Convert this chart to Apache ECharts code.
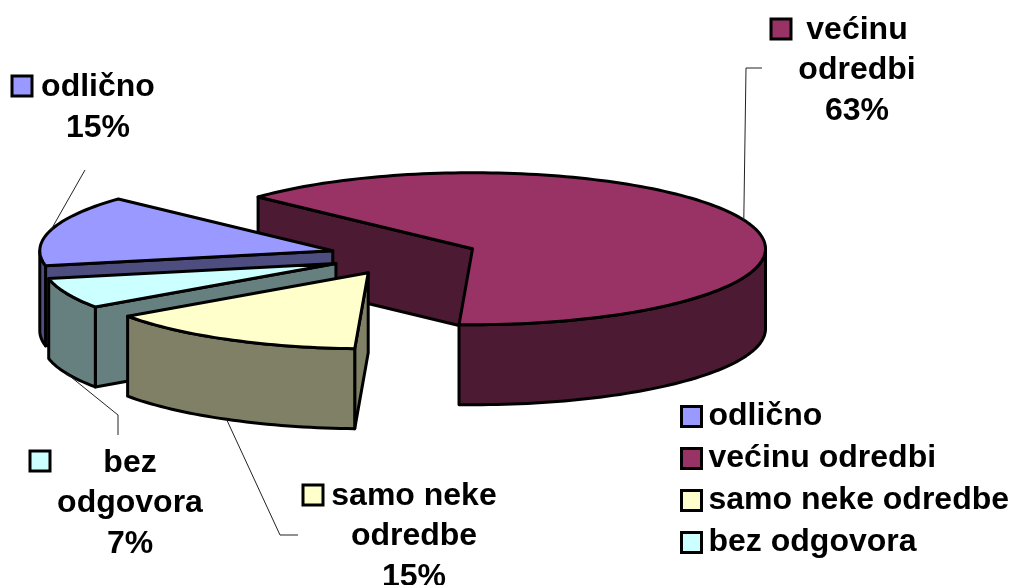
<!DOCTYPE html>
<html>
<head>
<meta charset="utf-8">
<style>html,body{margin:0;padding:0;background:#fff}#c{width:1012px;height:585px}</style>
<script src="https://cdn.jsdelivr.net/npm/echarts@6/dist/echarts.min.js"></script>
</head>
<body>
<div id="c"></div>
<script>
const categories = ['odlično', 'većinu odredbi', 'samo neke odredbe', 'bez odgovora'];
const values = [15.1, 63.8, 14.6, 6.5];
const percentLabels = ['15%', '63%', '15%', '7%'];
const labelNames = ['odlično', 'većinu\nodredbi', 'samo neke\nodredbe', 'bez\nodgovora'];

const topColors = ['#9999FF', '#993366', '#FFFFCC', '#CCFFFF'];
const sideColors = ['#4D4D80', '#4D1A33', '#808066', '#668080'];
const drawOrder = [1, 0, 3, 2];

// pie projection (ellipse radii, explosion, extrusion), independent of data
const pie = { cx: 404, cy: 256, rx: 293, ry: 76, explode: 74, depth: 80, firstAngle: -101.4 };
const labelCenters = [[98, 107.5], [857, 70.5], [414, 536.5], [130, 503.5]];
const swatches = [[22, 86], [781, 29], [313, 495], [40, 461]];
const leaders = [
  { wall: false, via: [[85, 170]] },
  { wall: false, via: [[746, 68], [762, 68]] },
  { wall: true, via: [[280, 535], [298, 535]] },
  { wall: true, via: [[118, 415], [118, 435]] }
];

const FONT = 'bold 32px "Liberation Sans", Arial, sans-serif';
const total = values.reduce((a, b) => a + b, 0);
const slices = [];
let acc = pie.firstAngle;
values.forEach((v) => {
  const sweep = v / total * 360;
  slices.push({ s: acc, e: acc + sweep, mid: acc + sweep / 2 });
  acc += sweep;
});
const rad = (d) => d * Math.PI / 180;

function apexOf(sl) {
  return [
    pie.cx + pie.explode * Math.sin(rad(sl.mid)),
    pie.cy - pie.explode * (pie.ry / pie.rx) * Math.cos(rad(sl.mid))
  ];
}
function rim(ap, deg, dz) {
  return [ap[0] + pie.rx * Math.sin(rad(deg)), ap[1] - pie.ry * Math.cos(rad(deg)) + (dz || 0)];
}
function arc(ap, a, b, dz) {
  const pts = [];
  const n = Math.max(2, Math.ceil(Math.abs(b - a) / 1.5));
  for (let i = 0; i <= n; i++) pts.push(rim(ap, a + (b - a) * i / n, dz));
  return pts;
}
function face(points, fill) {
  return {
    type: 'polygon',
    shape: { points: points },
    style: { fill: fill, stroke: '#000', lineWidth: 3, lineJoin: 'round' }
  };
}
function down(p) { return [p[0], p[1] + pie.depth]; }

function makeRender(idx) {
  return function () {
    const sl = slices[idx];
    const ap = apexOf(sl);
    const children = [];
    // only the cut faces that turn towards the viewer are drawn
    [[sl.s, Math.sin(rad(sl.s)) < 0], [sl.e, Math.sin(rad(sl.e)) > 0]].forEach(([deg, visible]) => {
      if (!visible) return;
      const r = rim(ap, deg);
      children.push(face([ap, r, down(r), down(ap)], sideColors[idx]));
    });
    [-360, 0, 360].forEach((k) => {
      const lo = Math.max(sl.s, 90 + k);
      const hi = Math.min(sl.e, 270 + k);
      if (hi > lo) {
        children.push(face(arc(ap, lo, hi).concat(arc(ap, hi, lo, pie.depth)), sideColors[idx]));
      }
    });
    children.push(face([ap].concat(arc(ap, sl.s, sl.e)), topColors[idx]));

    const L = leaders[idx];
    const start = rim(ap, sl.mid, L.wall ? pie.depth : 0);
    children.push({
      type: 'polyline',
      shape: { points: [start].concat(L.via) },
      style: { fill: null, stroke: '#222', lineWidth: 1 }
    });
    children.push({
      type: 'rect',
      shape: { x: swatches[idx][0] - 10, y: swatches[idx][1] - 10, width: 20, height: 20 },
      style: { fill: topColors[idx], stroke: '#000', lineWidth: 3 }
    });
    children.push({
      type: 'text',
      style: {
        x: labelCenters[idx][0],
        y: labelCenters[idx][1],
        text: labelNames[idx] + '\n' + percentLabels[idx],
        font: FONT,
        fill: '#000',
        align: 'center',
        verticalAlign: 'middle',
        lineHeight: 40.5
      }
    });
    return { type: 'group', children: children };
  };
}

const chart = echarts.init(document.getElementById('c'), null, { renderer: 'canvas' });
chart.setOption({
  animation: false,
  backgroundColor: '#fff',
  legend: {
    left: 675,
    top: 395,
    orient: 'vertical',
    itemWidth: 20,
    itemHeight: 20,
    itemGap: 9,
    selectedMode: false,
    textStyle: { fontFamily: '"Liberation Sans", Arial, sans-serif', fontWeight: 'bold', fontSize: 32, color: '#000', lineHeight: 33, padding: [0, 0, 0, 2] },
    data: categories.map((name, i) => ({
      name: name,
      icon: 'rect',
      itemStyle: { color: topColors[i], borderColor: '#000', borderWidth: 3 }
    }))
  },
  series: drawOrder.map((i, order) => ({
    type: 'custom',
    name: categories[i],
    coordinateSystem: 'none',
    silent: true,
    z: 2 + order,
    itemStyle: { color: topColors[i] },
    data: [[values[i]]],
    renderItem: makeRender(i)
  }))
});
</script>
</body>
</html>
